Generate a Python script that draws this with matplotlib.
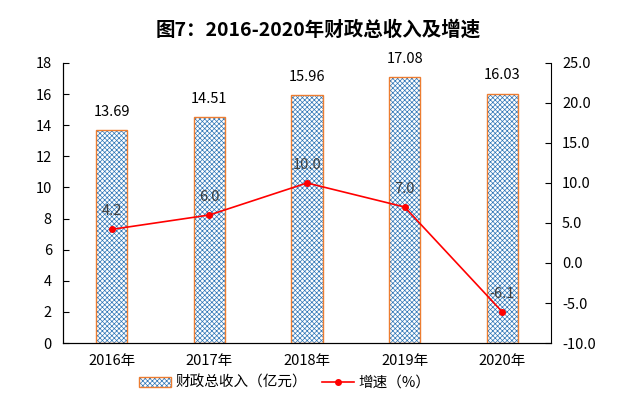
import numpy as np
import matplotlib.pyplot as plt
from matplotlib.patches import Patch
from matplotlib.lines import Line2D
from matplotlib.legend_handler import HandlerTuple

plt.rcParams['font.family'] = ['Noto Sans CJK SC', 'DejaVu Sans']
plt.rcParams['hatch.linewidth'] = 0.5

years = ['2016年', '2017年', '2018年', '2019年', '2020年']
revenue = [13.69, 14.51, 15.96, 17.08, 16.03]
growth = [4.2, 6.0, 10.0, 7.0, -6.1]

blue = '#2E75B6'
orange = '#ED7D31'

fig = plt.figure(figsize=(6.26, 4.01), dpi=100)
ax = fig.add_axes([0.1006, 0.1446, 0.7796, 0.6984])
x = np.arange(len(years))
w = 0.32

# checkered fill, then orange outline on top
ax.bar(x, revenue, w, facecolor='white', edgecolor=blue, hatch='xxxxxxx', linewidth=0, zorder=2)
ax.bar(x, revenue, w, fill=False, edgecolor=orange, linewidth=1.0, zorder=3)
for xi, v in zip(x, revenue):
    ax.annotate(f'{v:.2f}', (xi, v), xytext=(0, 8), textcoords='offset points',
                ha='center', va='bottom', fontsize=10.5, color='black')

ax.set_xlim(-0.5, 4.5)
ax.set_ylim(0, 18)
ax.set_yticks(np.arange(0, 19, 2))
ax.set_xticks(x)
ax.set_xticklabels(years)
ax.tick_params(axis='y', direction='in', length=4, labelsize=10.5, pad=8)
ax.tick_params(axis='x', length=0, labelsize=10.5, pad=8)
ax.spines['top'].set_visible(False)
ax.spines['right'].set_visible(False)

ax2 = ax.twinx()
ax2.plot(x, growth, color='red', linewidth=1.2, marker='o', markersize=4, zorder=4)
for xi, v in zip(x, growth):
    ax2.annotate(f'{v:.1f}', (xi, v), xytext=(0, 8), textcoords='offset points',
                 ha='center', va='bottom', fontsize=10.5, color='#404040')
ax2.set_ylim(-10, 25)
ax2.set_yticks(np.arange(-10, 26, 5))
ax2.set_yticklabels([f'{t:.1f}' for t in np.arange(-10, 26, 5)])
ax2.tick_params(axis='y', direction='in', length=4, labelsize=10.5, pad=8)
ax2.spines['top'].set_visible(False)

fig.text(0.508, 0.925, '图7：2016-2020年财政总收入及增速', ha='center', va='center',
         fontsize=14, fontweight='bold')

h_bar = (Patch(facecolor='white', edgecolor=blue, hatch='xxxxxxx', linewidth=0),
         Patch(fill=False, edgecolor=orange, linewidth=1.0))
h_line = Line2D([], [], color='red', linewidth=1.2, marker='o', markersize=4)
fig.legend([h_bar, h_line], ['财政总收入（亿元）', '增速（%）'],
           handler_map={tuple: HandlerTuple(ndivide=1)},
           loc='center', bbox_to_anchor=(0.455, 0.045), ncol=2, frameon=False,
           fontsize=10.5, handlelength=2.2, columnspacing=1.0, handletextpad=0.3)

fig.savefig('out.png', dpi=100)
